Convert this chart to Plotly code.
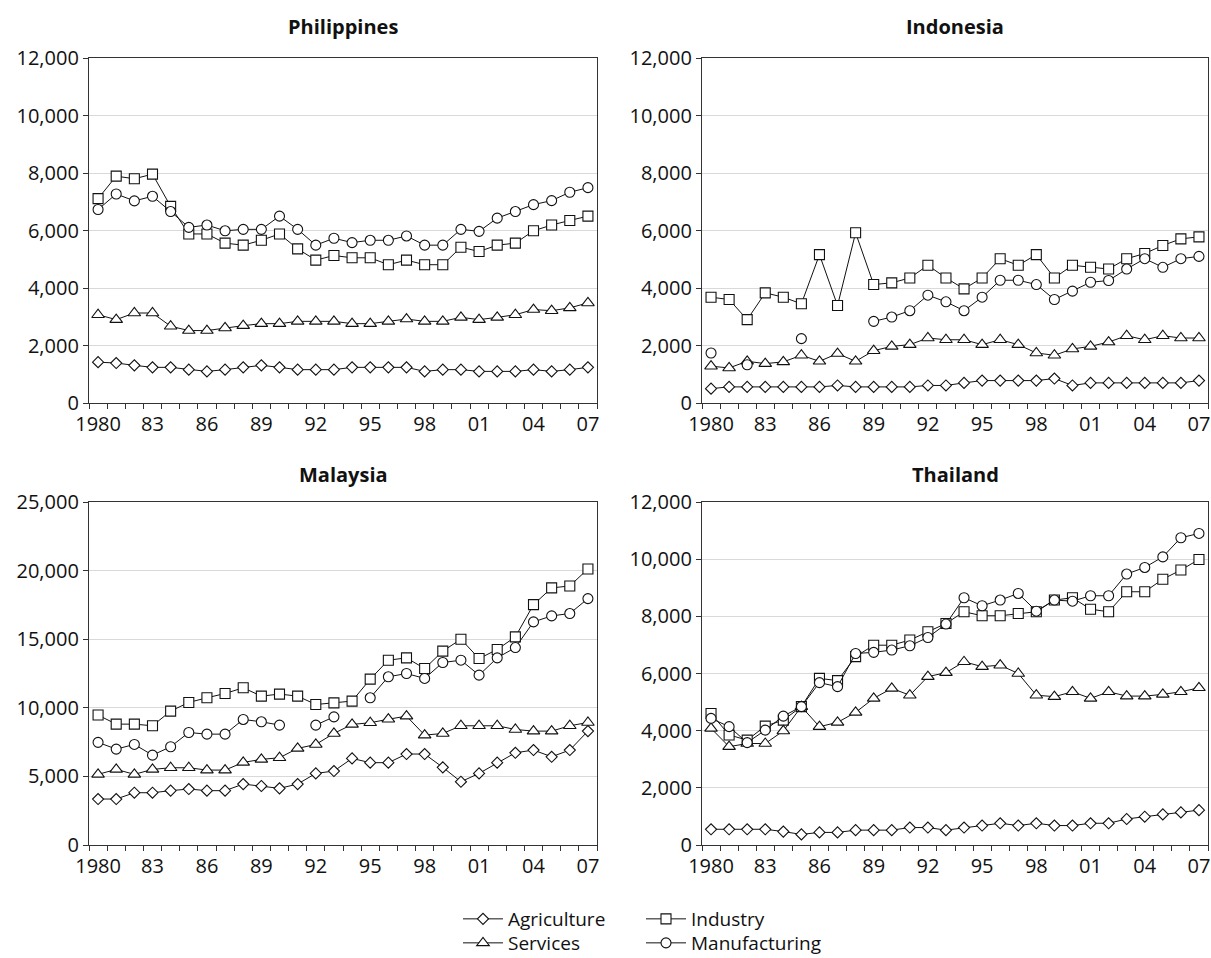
import plotly.graph_objects as go

years = list(range(1980, 2008))
tick_years = [1980, 1983, 1986, 1989, 1992, 1995, 1998, 2001, 2004, 2007]
tick_text = ["1980", "83", "86", "89", "92", "95", "98", "01", "04", "07"]

countries = ["Philippines", "Indonesia", "Malaysia", "Thailand"]
sectors = ["Agriculture", "Industry", "Services", "Manufacturing"]

# Philippines
ph_agriculture = [1420, 1390, 1310, 1240, 1240, 1160, 1100, 1160, 1240, 1310, 1240, 1160, 1160, 1160,
                  1240, 1240, 1240, 1240, 1100, 1160, 1160, 1100, 1100, 1100, 1160, 1100, 1160, 1240]
ph_industry = [7110, 7890, 7800, 7960, 6840, 5880, 5880, 5560, 5490, 5660, 5880, 5360, 4970, 5130,
               5050, 5050, 4810, 4970, 4810, 4810, 5420, 5270, 5490, 5560, 5990, 6190, 6350, 6500]
ph_services = [3070, 2900, 3130, 3130, 2670, 2520, 2520, 2610, 2690, 2760, 2760, 2840, 2840, 2840,
               2760, 2760, 2840, 2920, 2840, 2840, 2980, 2900, 2980, 3070, 3250, 3210, 3310, 3480]
ph_manufacturing = [6730, 7270, 7030, 7190, 6660, 6110, 6190, 5990, 6040, 6040, 6500, 6040, 5490, 5730,
                    5580, 5660, 5660, 5810, 5490, 5490, 6040, 5970, 6430, 6660, 6900, 7040, 7330, 7490]

# Indonesia
id_agriculture = [500, 560, 560, 560, 560, 560, 560, 610, 560, 560, 560, 560, 610, 610,
                  700, 780, 780, 780, 780, 850, 610, 700, 700, 700, 700, 700, 700, 780]
id_industry = [3680, 3600, 2900, 3830, 3680, 3450, 5160, 3390, 5920, 4120, 4180, 4350, 4790, 4350,
               3970, 4350, 5020, 4790, 5160, 4350, 4790, 4720, 4660, 5020, 5200, 5480, 5710, 5780]
id_services = [1280, 1220, 1450, 1370, 1430, 1660, 1450, 1720, 1450, 1820, 1970, 2030, 2260, 2200,
               2200, 2030, 2200, 2030, 1740, 1660, 1880, 1970, 2120, 2340, 2200, 2340, 2260, 2260]
id_manufacturing = [1740, None, 1330, None, None, 2240, None, None, None, 2840, 2990, 3210, 3750, 3520,
                    3210, 3680, 4270, 4270, 4120, 3600, 3890, 4200, 4260, 4660, 5020, 4720, 5020, 5100]

# Malaysia
my_agriculture = [3350, 3350, 3810, 3810, 3960, 4080, 3960, 3960, 4440, 4300, 4130, 4440, 5220, 5390,
                  6310, 6000, 6000, 6630, 6630, 5660, 4610, 5220, 6000, 6720, 6920, 6430, 6920, 8300]
my_industry = [9470, 8810, 8810, 8690, 9760, 10390, 10730, 11040, 11460, 10850, 11000, 10850, 10240, 10360,
               10490, 12090, 13470, 13640, 12860, 14130, 15000, 13590, 14250, 15170, 17520, 18740, 18880, 20120]
my_services = [5150, 5510, 5150, 5510, 5630, 5630, 5460, 5460, 6020, 6240, 6360, 7040, 7330, 8130,
               8790, 8910, 9170, 9390, 8010, 8130, 8690, 8690, 8690, 8420, 8300, 8300, 8690, 8930]
my_manufacturing = [7480, 6990, 7330, 6550, 7160, 8200, 8080, 8080, 9150, 8980, 8740, None, 8740, 9340,
                    None, 10730, 12260, 12500, 12140, 13300, 13470, 12380, 13640, 14390, 16260, 16700, 16870, 17960]

# Thailand
th_agriculture = [550, 550, 550, 550, 470, 370, 440, 440, 520, 520, 520, 610, 610, 520,
                  610, 680, 760, 680, 760, 680, 680, 760, 760, 910, 990, 1070, 1140, 1220]
th_industry = [4600, 3850, 3670, 4160, 4370, 4840, 5830, 5750, 6590, 6990, 6990, 7170, 7460, 7750,
               8160, 8020, 8020, 8100, 8160, 8570, 8650, 8250, 8160, 8860, 8860, 9300, 9620, 9990]
th_services = [4080, 3440, 3550, 3550, 3990, 4840, 4140, 4290, 4640, 5130, 5480, 5240, 5890, 6030,
               6410, 6240, 6290, 6000, 5240, 5190, 5360, 5130, 5360, 5210, 5210, 5270, 5360, 5500]
th_manufacturing = [4430, 4140, 3580, 4020, 4510, 4840, 5680, 5540, 6700, 6740, 6820, 6970, 7260, 7730,
                    8650, 8370, 8570, 8800, 8180, 8570, 8530, 8720, 8720, 9480, 9710, 10080, 10750, 10900]

data = {
    "Philippines": [ph_agriculture, ph_industry, ph_services, ph_manufacturing],
    "Indonesia": [id_agriculture, id_industry, id_services, id_manufacturing],
    "Malaysia": [my_agriculture, my_industry, my_services, my_manufacturing],
    "Thailand": [th_agriculture, th_industry, th_services, th_manufacturing],
}
y_max = {"Philippines": 12000, "Indonesia": 12000, "Malaysia": 25000, "Thailand": 12000}
y_step = {"Philippines": 2000, "Indonesia": 2000, "Malaysia": 5000, "Thailand": 2000}

W, H = 1211, 958
FONT = "Open Sans"

def px_x(a, b):
    return [a / W, b / W]

def px_y(top, bottom):
    return [1 - bottom / H, 1 - top / H]

panel_box = {
    "Philippines": (89, 597, 58, 403),
    "Indonesia": (702, 1208, 58, 403),
    "Malaysia": (89, 597, 502, 845),
    "Thailand": (702, 1208, 502, 845),
}
title_y = {"Philippines": 26, "Indonesia": 26, "Malaysia": 474, "Thailand": 474}

symbols = {"Agriculture": ("diamond", 8.5), "Industry": ("square", 10),
           "Services": ("triangle-up", 11), "Manufacturing": ("circle", 10)}
legend_of = {"Agriculture": "legend", "Industry": "legend",
             "Services": "legend2", "Manufacturing": "legend2"}

fig = go.Figure()
layout = {}
annotations = []
for i, c in enumerate(countries):
    k = "" if i == 0 else str(i + 1)
    x0, x1, t, b = panel_box[c]
    for j, s in enumerate(sectors):
        sym, size = symbols[s]
        fig.add_trace(go.Scatter(
            x=years, y=data[c][j], mode="lines+markers", name=s,
            xaxis="x" + k, yaxis="y" + k,
            line=dict(color="#111111", width=1),
            marker=dict(symbol=sym, size=size, color="white",
                        line=dict(color="#111111", width=1.1)),
            showlegend=(i == 0), legend=legend_of[s],
        ))
    layout["xaxis" + k] = dict(
        domain=px_x(x0, x1), anchor="y" + k, range=[1979.5, 2007.5],
        tickmode="array", tickvals=tick_years, ticktext=tick_text, ticks="",
        minor=dict(tick0=1979.5, dtick=1, ticks="outside", ticklen=5,
                   tickcolor="#333333", tickwidth=1, showgrid=False),
        showline=True, mirror=True, linecolor="#333333", linewidth=1.3,
        showgrid=False, zeroline=False, automargin=False, ticklabelstandoff=3,
        tickfont=dict(family=FONT, size=20, color="#111111"),
    )
    layout["yaxis" + k] = dict(
        domain=px_y(t, b), anchor="x" + k, range=[0, y_max[c]],
        tickmode="linear", tick0=0, dtick=y_step[c], tickformat=",",
        ticks="outside", ticklen=5, tickcolor="#333333",
        showline=True, mirror=True, linecolor="#333333", linewidth=1.3,
        showgrid=True, gridcolor="#d9d9d9", gridwidth=1, zeroline=False, automargin=False,
        tickfont=dict(family=FONT, size=20, color="#111111"),
    )
    annotations.append(dict(
        text="<b>" + c + "</b>", x=(x0 + x1) / 2 / W, y=1 - title_y[c] / H,
        xref="paper", yref="paper", xanchor="center", yanchor="middle",
        showarrow=False, font=dict(family=FONT, size=20, color="#111111"),
    ))

fig.update_layout(
    width=W, height=H, margin=dict(l=0, r=0, t=0, b=0, pad=0, autoexpand=False),
    paper_bgcolor="white", plot_bgcolor="white",
    font=dict(family=FONT, size=19, color="#111111"),
    annotations=annotations,
    legend=dict(orientation="h", x=458 / W, y=1 - 919 / H, xanchor="left", yanchor="middle",
                entrywidth=128, entrywidthmode="pixels", font=dict(family=FONT, size=19),
                bgcolor="rgba(0,0,0,0)", itemwidth=40, tracegroupgap=0),
    legend2=dict(orientation="h", x=458 / W, y=1 - 943 / H, xanchor="left", yanchor="middle",
                 entrywidth=128, entrywidthmode="pixels", font=dict(family=FONT, size=19),
                 bgcolor="rgba(0,0,0,0)", itemwidth=40, tracegroupgap=0),
    **layout,
)

fig.write_html("out.html", config={"displayModeBar": False},
               post_script="document.body.style.margin='0';")
